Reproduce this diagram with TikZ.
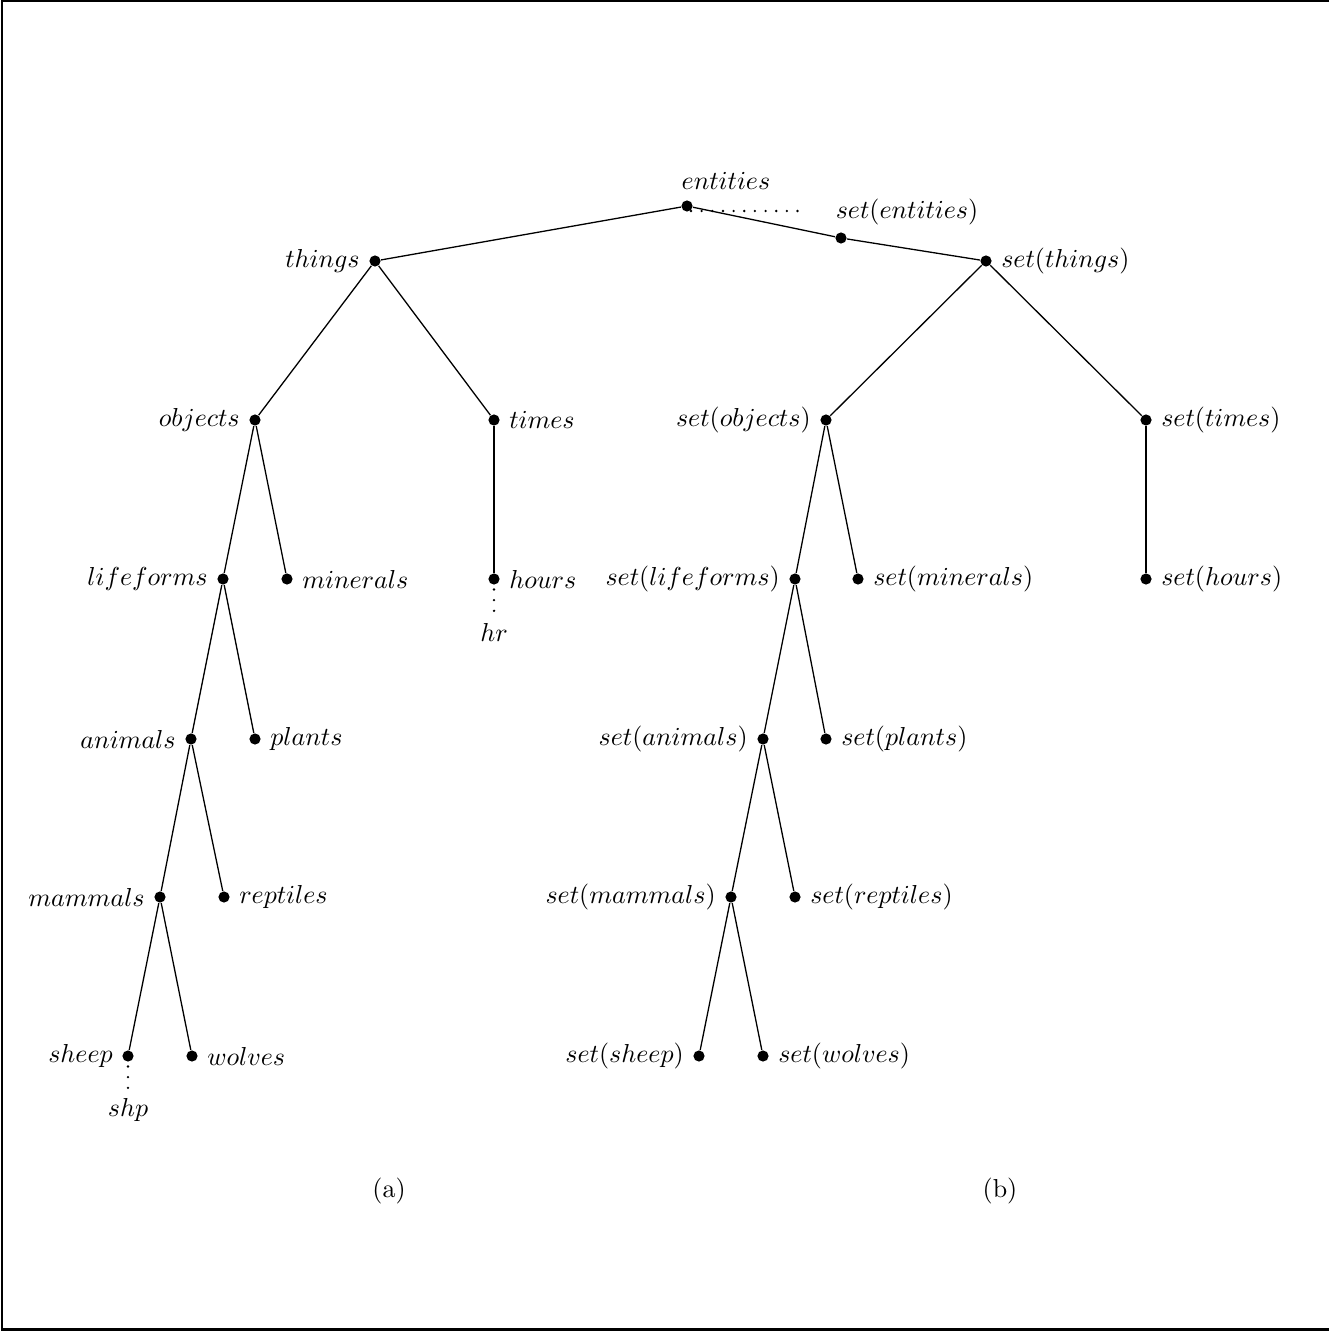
\documentclass[tikz,border=0pt]{standalone}
\begin{document}
\begin{tikzpicture}[x=0.385pt,y=-0.385pt,
  dot/.style={circle,fill,inner sep=0pt,minimum size=4.3pt},
  ll/.style={label={[label distance=0pt]left:$#1$}},
  rl/.style={label={[label distance=0pt]right:$#1$}},
  edge/.style={line width=0.5pt},
  thickedge/.style={line width=1.1pt},
  dotline/.style={line width=1pt,line cap=round,dash pattern=on 0pt off 4.1pt},
  frame/.style={line width=1.1pt}]
\useasboundingbox (0,0) rectangle (1329,1331);
\coordinate (fa) at (2,0.8);
\coordinate (fb) at (2,1329.5);
\coordinate (fc) at (1329,1329.5);
\coordinate (fd) at (1329,0.8);
\draw[frame] (fd) -- (fa) -- (fb) -- (fc);
% tree (a)
\node[dot] (entities) at (687,206) {};
\node (entitiesL) at (726,181) {$entities$};
\node[dot,ll=things] (things) at (375,261) {};
\node[dot,ll=objects] (objects) at (255,420) {};
\node[dot,rl=times] (times) at (494,420) {};
\node[dot,ll=lifeforms] (lifeforms) at (223,579) {};
\node[dot,rl=minerals] (minerals) at (287,579) {};
\node[dot,rl=hours] (hours) at (494,579) {};
\node (hr) at (494,632) {$hr$};
\node[dot,ll=animals] (animals) at (191,739) {};
\node[dot,rl=plants] (plants) at (255,739) {};
\node[dot,ll=mammals] (mammals) at (160,897) {};
\node[dot,rl=reptiles] (reptiles) at (224,897) {};
\node[dot,ll=sheep] (sheep) at (128,1056) {};
\node[dot,rl=wolves] (wolves) at (192,1056) {};
\node (shp) at (128,1110) {$shp$};
% tree (b)
\node[dot] (setentities) at (841,238) {};
\node (setentitiesL) at (907,212) {$set(entities)$};
\node[dot,rl={set(things)}] (setthings) at (986,261) {};
\node[dot,ll={set(objects)}] (setobjects) at (826,420) {};
\node[dot,rl={set(times)}] (settimes) at (1146,420) {};
\node[dot,ll={set(lifeforms)}] (setlifeforms) at (795,579) {};
\node[dot,rl={set(minerals)}] (setminerals) at (858,579) {};
\node[dot,rl={set(hours)}] (sethours) at (1146,579) {};
\node[dot,ll={set(animals)}] (setanimals) at (763,739) {};
\node[dot,rl={set(plants)}] (setplants) at (826,739) {};
\node[dot,ll={set(mammals)}] (setmammals) at (731,897) {};
\node[dot,rl={set(reptiles)}] (setreptiles) at (795,897) {};
\node[dot,ll={set(sheep)}] (setsheep) at (699,1056) {};
\node[dot,rl={set(wolves)}] (setwolves) at (763,1056) {};
\coordinate (edots) at (800,211);
% edges
\draw[edge] (entities) -- (things);
\draw[edge] (entities) -- (setentities);
\draw[edge] (setentities) -- (setthings);
\draw[edge] (things) -- (objects);
\draw[edge] (things) -- (times);
\draw[thickedge] (times) -- (hours);
\draw[edge] (objects) -- (lifeforms);
\draw[edge] (objects) -- (minerals);
\draw[edge] (lifeforms) -- (animals);
\draw[edge] (lifeforms) -- (plants);
\draw[edge] (animals) -- (mammals);
\draw[edge] (animals) -- (reptiles);
\draw[edge] (mammals) -- (sheep);
\draw[edge] (mammals) -- (wolves);
\draw[edge] (setthings) -- (setobjects);
\draw[edge] (setthings) -- (settimes);
\draw[thickedge] (settimes) -- (sethours);
\draw[edge] (setobjects) -- (setlifeforms);
\draw[edge] (setobjects) -- (setminerals);
\draw[edge] (setlifeforms) -- (setanimals);
\draw[edge] (setlifeforms) -- (setplants);
\draw[edge] (setanimals) -- (setmammals);
\draw[edge] (setanimals) -- (setreptiles);
\draw[edge] (setmammals) -- (setsheep);
\draw[edge] (setmammals) -- (setwolves);
% dotted links
\draw[dotline] ([shift={(4,5)}]entities.center) -- (edots);
\draw[dotline] ([yshift=-10.5*0.385pt]hours.center) -- ([yshift=-10.5*0.385pt*4]hours.center);
\draw[dotline] ([yshift=-10.5*0.385pt]sheep.center) -- ([yshift=-10.5*0.385pt*4]sheep.center);
% captions
\node (capa) at (389,1191) {(a)};
\node (capb) at (1000,1191) {(b)};
\end{tikzpicture}
\end{document}
